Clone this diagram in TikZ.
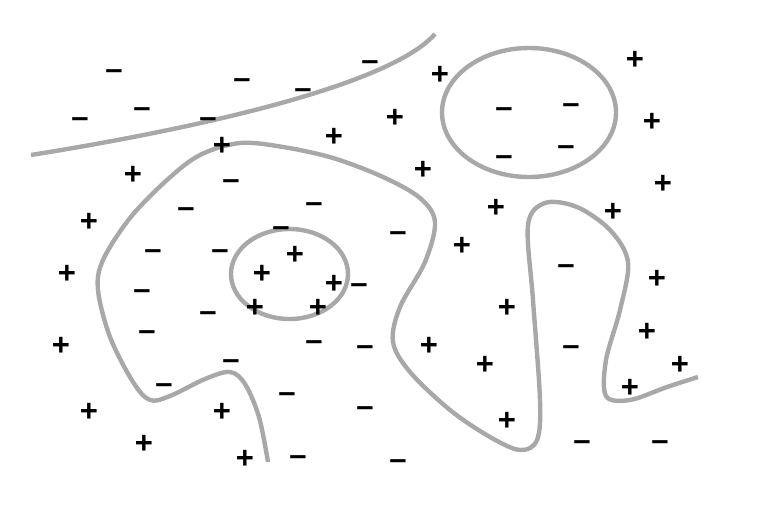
\documentclass[tikz,border=0pt]{standalone}
\usepackage{fontspec}
\newfontfamily\signfont{Liberation Sans}
\definecolor{bordergray}{RGB}{168,168,168}

\begin{document}
\begin{tikzpicture}[
    x=1pt, y=-1pt,
    possign/.style={font=\signfont\bfseries\fontsize{31}{31}\selectfont, inner sep=0pt, anchor=base, yshift=-10.3pt},
    negsign/.style={font=\signfont\bfseries\fontsize{31}{31}\selectfont, inner sep=0pt, anchor=base, yshift=-8.2pt},
    boundary/.style={draw=bordergray, line width=4.4pt}
]
    \useasboundingbox (0,0) rectangle (760,506);

    %% DECISION BOUNDARIES
    % upper left arc
    \draw [boundary] (31,155) .. controls (200,128) and (390,85) .. (435,34);

    % long winding curve
    \draw [boundary] plot [smooth, tension=0.55] coordinates {(268,462) (259,417) (245,384) (230,372) (205,379) (170,396) (150,400) (133,382) (110,337) (98,290) (103,260) (130,218) (167,180) (200,155) (240,143) (283,147) (333,158) (383,177) (420,198) (435,222) (425,262) (400,307) (393,342) (410,372) (450,410) (490,437) (520,450) (537,440) (540,400) (533,300) (528,225) (545,203) (577,207) (610,230) (628,262) (620,310) (606,360) (606,396) (630,400) (667,387) (698,377)};

    % islands
    \draw [boundary] (289.5,274) ellipse [x radius=58.5, y radius=45];
    \draw [boundary] (529,112.5) ellipse [x radius=87, y radius=64.5];

    %% POSITIVE SAMPLES
    \foreach \px/\py [count=\i] in {440/74, 635/59, 395/117, 652/121, 334/136, 222/145, 133/174, 423/169,
        663/183, 496/207, 613/211, 89/221, 462/245, 295/254, 67/273, 262/273, 334/283, 657/278,
        255/307, 318/307, 507/307, 647/331, 61/345, 429/345, 485/364, 680/364, 630/387, 89/411,
        222/411, 507/420, 144/443, 245/458}
        \node [possign] (pos\i) at (\px,\py) {+};

    %% NEGATIVE SAMPLES
    \foreach \nx/\ny [count=\i] in {114/71, 242/80, 370/62, 80/119, 142/109, 208/119, 303/90, 231/181,
        186/209, 314/204, 281/228, 398/233, 153/251, 220/251, 142/291, 208/313, 147/332, 359/285,
        314/342, 365/347, 231/361, 164/385, 287/394, 365/408, 298/457, 398/461, 504/109, 571/105,
        504/157, 566/147, 566/266, 571/347, 582/442, 660/442}
        \node [negsign] (neg\i) at (\nx,\ny) {–};

\end{tikzpicture}
\end{document}
